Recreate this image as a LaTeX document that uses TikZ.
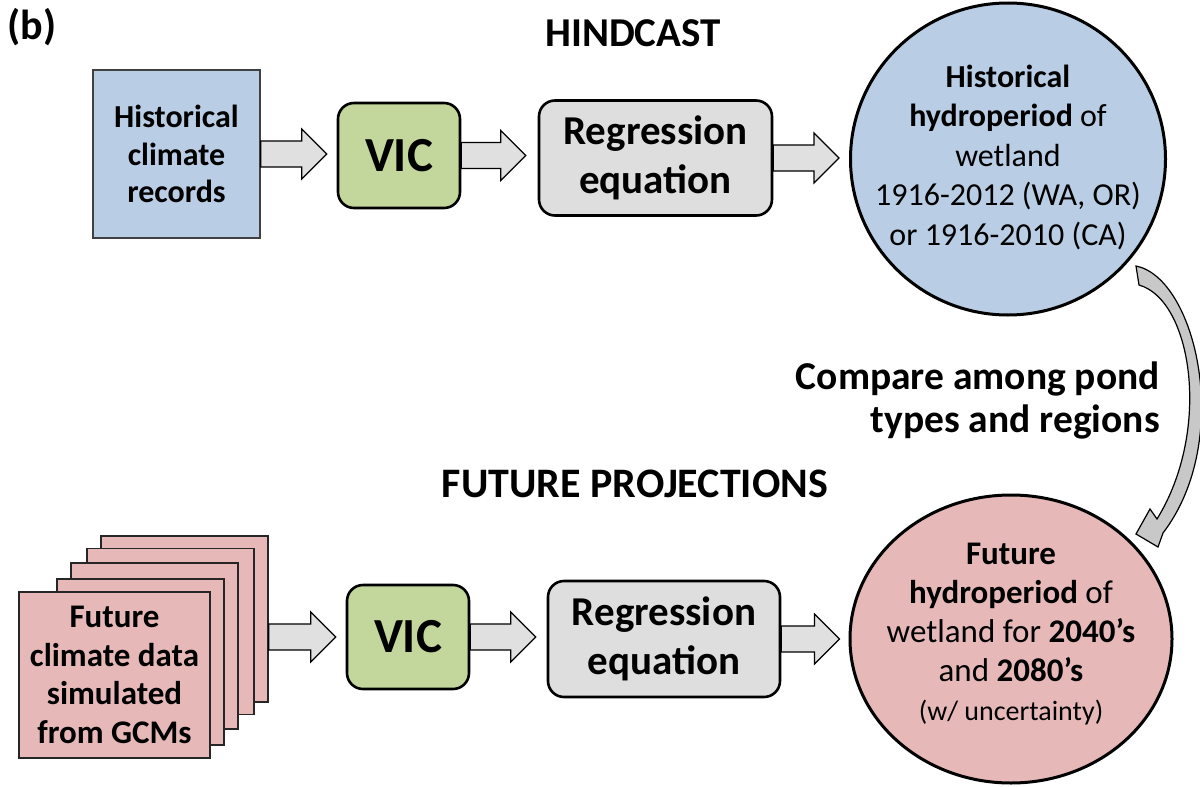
\documentclass[tikz,border=0pt]{standalone}
\usepackage{fontspec}
\setmainfont{Carlito}
\usetikzlibrary{shapes.geometric,calc}
\definecolor{hblue}{HTML}{B9CDE5}
\definecolor{vgreen}{HTML}{C3D69B}
\definecolor{rgray}{HTML}{DEDEDE}
\definecolor{fpink}{HTML}{E6B9B8}
\definecolor{agray}{HTML}{E0E0E0}
\definecolor{cgray}{HTML}{C8C8C8}
\tikzset{
  histbox/.style={draw=black!75, line width=1.3pt, fill=hblue, minimum width=167pt, minimum height=168pt, align=center, inner sep=0pt, font=\bfseries\fontsize{32}{37.5}\selectfont},
  pinkbox/.style={draw=black!85, line width=1.6pt, fill=fpink, minimum height=166pt, inner sep=0pt},
  vicbox/.style={draw=black, line width=2.6pt, fill=vgreen, rounded corners=16pt, minimum width=122pt, minimum height=105pt, inner sep=0pt, font=\bfseries\fontsize{49}{50}\selectfont},
  regbox/.style={draw=black, line width=2.6pt, fill=rgray, rounded corners=16pt, minimum width=233pt, minimum height=115pt, align=center, inner sep=0pt, font=\bfseries\fontsize{41}{49}\selectfont},
  bigcirc/.style={draw=black, line width=3pt, ellipse, inner sep=0pt},
  circtext/.style={align=center, inner sep=0pt, font=\fontsize{32}{39.5}\selectfont},
  heading/.style={inner sep=0pt, font=\bfseries\fontsize{42}{44}\selectfont},
  blockarrow/.style={draw=black, line width=1.2pt, fill=agray, line join=miter},
}
\newcommand\barrow[3]{%
  \path[blockarrow] let \p1=#1, \p2=#2, \p3=#3 in
    (\x1,\y2+13pt) -- (\x3-25pt,\y2+13pt) -- (\x3-25pt,\y2+25pt) -- (\x3,\y2)
    -- (\x3-25pt,\y2-25pt) -- (\x3-25pt,\y2-13pt) -- (\x1,\y2-13pt) -- cycle;}
\begin{document}
\begin{tikzpicture}[x=1pt,y=-1pt]
\useasboundingbox (0,0) rectangle (1200,787);
\fill[white] (0,0) rectangle (1200,787);

% labels
\node[heading, font=\bfseries\fontsize{42}{44}\selectfont] (lab) at (32,27) {(b)};
\node[heading, font=\bfseries\fontsize{41}{44}\selectfont] (hind) at (633,33) {HINDCAST};
\node[heading] (fut) at (635,484) {FUTURE PROJECTIONS};
\node[inner sep=0pt, align=right, anchor=east, font=\bfseries\fontsize{39.5}{43}\selectfont] (cmp) at (1160,400) {Compare among pond\\types and regions};

% hindcast row
\node[histbox] (hist) at (176.5,154) {Historical\\climate\\records};
\node[vicbox] (vic1) at (399,155.5) {VIC};
\node[regbox] (reg1) at (655.5,158) {Regression\\equation};
\node[bigcirc, fill=hblue, minimum width=315pt, minimum height=312pt] (hc) at (1008,159) {};
\node[circtext] (hct) at (1008,157) {\textbf{Historical}\\\textbf{hydroperiod} of\\wetland\\1916-2012 (WA, OR)\\or 1916-2010 (CA)};

\barrow{(hist.east)}{(hist.east)}{($(vic1.west)+(-10,0)$)}
\barrow{(vic1.east)}{(vic1.east)}{($(reg1.west)+(-12,0)$)}
\barrow{(reg1.east)}{(reg1.east)}{($(hc.west)+(-10,0)$)}

% future row
\node[pinkbox, minimum width=167pt] (p5) at (184.5,619) {};
\node[pinkbox, minimum width=167pt] (p4) at (170.5,631.5) {};
\node[pinkbox, minimum width=167pt] (p3) at (154.5,646) {};
\node[pinkbox, minimum width=167pt] (p2) at (140.5,662) {};
\node[pinkbox, minimum width=191pt, align=center, font=\bfseries\fontsize{33}{38.5}\selectfont] (p1) at (114.5,675) {Future\\climate data\\simulated\\from GCMs};
\node[vicbox, minimum height=104pt] (vic2) at (408,637) {VIC};
\node[regbox, minimum width=232pt, minimum height=116pt] (reg2) at (664,639) {Regression\\equation};
\node[bigcirc, fill=fpink, minimum width=322pt, minimum height=288pt] (fc) at (1011,639) {};
\node[circtext, font=\fontsize{33}{39}\selectfont] (fct) at (1011,634) {\textbf{Future}\\\textbf{hydroperiod} of\\wetland for \textbf{2040’s}\\and \textbf{2080’s}\\{\fontsize{28}{30}\selectfont (w/ uncertainty)}};

\barrow{(p5.east)}{(vic2.west)}{($(vic2.west)+(-10,0)$)}
\barrow{(vic2.east)}{(vic2.east)}{($(reg2.west)+(-11,0)$)}
\barrow{(reg2.east)}{(reg2.east)}{($(fc.west)+(-9,0)$)}

% curved comparison arrow
\coordinate (ct1) at (1136,266);
\coordinate (ct2) at (1139,285);
\coordinate (cho) at (1163,533);
\coordinate (chi) at (1157,519);
\coordinate (cb1) at (1158,547);
\coordinate (ctip) at (1136,534);
\coordinate (cb2) at (1150,509);
\draw[draw=black, line width=1.2pt, fill=cgray, line join=miter]
  (ct1) .. controls (1196,278) and (1234,440) .. (cho) -- (cb1) -- (ctip) -- (cb2) -- (chi)
  .. controls (1212,430) and (1192,300) .. (ct2) -- cycle;
\end{tikzpicture}
\end{document}
